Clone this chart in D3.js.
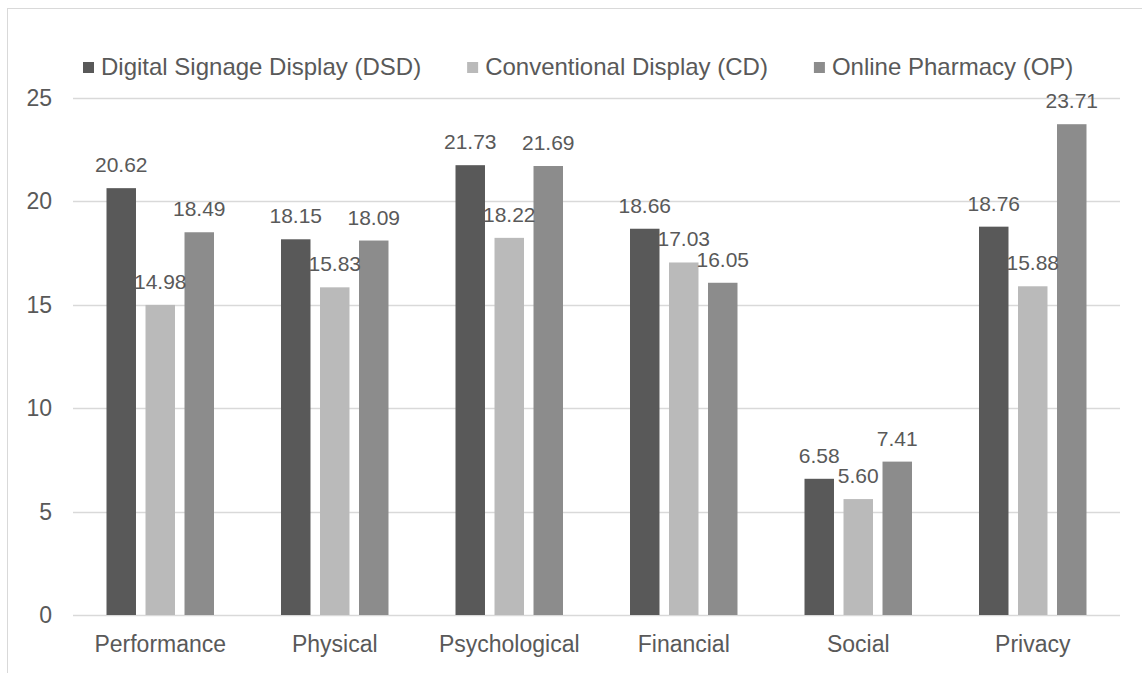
<!DOCTYPE html>
<html>
<head>
<meta charset="utf-8">
<script src="https://cdn.jsdelivr.net/npm/d3@7"></script>
<style>
  body { margin: 0; background: #fff; }
  svg text { font-family: "Liberation Sans", Arial, sans-serif; fill: #595959; }
</style>
</head>
<body>
<script>
// chart data
var categories = ["Performance", "Physical", "Psychological", "Financial", "Social", "Privacy"];
var seriesNames = ["Digital Signage Display (DSD)", "Conventional Display (CD)", "Online Pharmacy (OP)"];
var dsdValues = [20.62, 18.15, 21.73, 18.66, 6.58, 18.76];
var cdValues = [14.98, 15.83, 18.22, 17.03, 5.60, 15.88];
var opValues = [18.49, 18.09, 21.69, 16.05, 7.41, 23.71];
var yTicks = [0, 5, 10, 15, 20, 25];

var seriesValues = [dsdValues, cdValues, opValues];
var colors = ["#595959", "#bababa", "#8c8c8c"];

var w = 1142, h = 673;
// plot area edges (don't use "top", it clashes with window.top)
var plotLeft = 73, plotRight = 1120, plotTop = 97.5, plotBottom = 615;

var svg = d3.select("body").append("svg")
    .attr("width", w)
    .attr("height", h);

// outer chart border
svg.append("rect")
    .attr("x", 7.5).attr("y", 8.5)
    .attr("width", 1150).attr("height", 680)
    .attr("fill", "none")
    .attr("stroke", "#d9d9d9");

var y = d3.scaleLinear().domain([0, 25]).range([plotBottom, plotTop]);

var x0 = d3.scaleBand()
    .domain(categories)
    .range([plotLeft, plotRight])
    .paddingInner(0.384)
    .paddingOuter(0.192);

var x1 = d3.scaleBand()
    .domain(d3.range(seriesNames.length))
    .range([0, x0.bandwidth()])
    .paddingInner(0.244);

// gridlines
svg.append("g").selectAll("line")
    .data(yTicks)
    .enter().append("line")
    .attr("x1", plotLeft).attr("x2", plotRight)
    .attr("y1", function(d) { return Math.round(y(d)) + 0.5; })
    .attr("y2", function(d) { return Math.round(y(d)) + 0.5; })
    .attr("stroke", "#d9d9d9")
    .attr("stroke-width", 1.3);

// y axis labels
svg.append("g").selectAll("text")
    .data(yTicks)
    .enter().append("text")
    .attr("x", 52)
    .attr("y", function(d) { return y(d); })
    .attr("dy", "0.36em")
    .attr("text-anchor", "end")
    .attr("font-size", "23px")
    .text(function(d) { return d; });

// bars, one group per category
var rows = categories.map(function(c, i) {
  return { cat: c, vals: seriesValues.map(function(s) { return s[i]; }) };
});

var groups = svg.append("g").selectAll("g")
    .data(rows)
    .enter().append("g")
    .attr("transform", function(d) { return "translate(" + x0(d.cat) + ",0)"; });

groups.selectAll("rect")
    .data(function(d) { return d.vals; })
    .enter().append("rect")
    .attr("x", function(d, j) { return x1(j); })
    .attr("y", function(d) { return y(d); })
    .attr("width", x1.bandwidth())
    .attr("height", function(d) { return y(0) - y(d); })
    .attr("fill", function(d, j) { return colors[j]; });

// value labels above bars
groups.selectAll("text")
    .data(function(d) { return d.vals; })
    .enter().append("text")
    .attr("x", function(d, j) { return x1(j) + x1.bandwidth() / 2; })
    .attr("y", function(d) { return y(d) - 16; })
    .attr("text-anchor", "middle")
    .attr("font-size", "21px")
    .text(function(d) { return d.toFixed(2); });

// category labels
svg.append("g").selectAll("text")
    .data(categories)
    .enter().append("text")
    .attr("x", function(d) { return x0(d) + x0.bandwidth() / 2; })
    .attr("y", 652)
    .attr("text-anchor", "middle")
    .attr("font-size", "23px")
    .text(function(d) { return d; });

// legend
var legend = svg.append("g");
var lx = 83;
seriesNames.forEach(function(name, j) {
  legend.append("rect")
      .attr("x", lx).attr("y", 62)
      .attr("width", 11).attr("height", 11)
      .attr("fill", colors[j]);
  var t = legend.append("text")
      .attr("x", lx + 18)
      .attr("y", 75)
      .attr("font-size", "24px")
      .text(name);
  lx += 18 + t.node().getComputedTextLength() + 46;
});
</script>
</body>
</html>
